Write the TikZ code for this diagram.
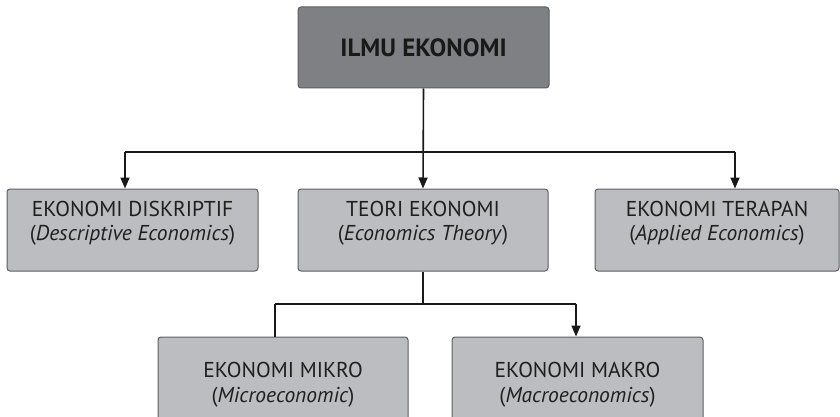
\documentclass[tikz,border=0pt]{standalone}
\usepackage{fontspec}
\setmainfont{PT Sans}
\usetikzlibrary{arrows.meta}
\definecolor{topfill}{HTML}{7F8084}
\definecolor{boxfill}{HTML}{BCBDC0}
\definecolor{boxline}{HTML}{5E5E60}
\tikzset{
  topbox/.style={draw=boxline, line width=1pt, fill=topfill, rounded corners=3pt, minimum width=251pt, minimum height=81pt, inner sep=0pt, font=\fontsize{25}{28}\selectfont\bfseries, text=black!90},
  subbox/.style={draw=boxline, line width=1pt, fill=boxfill, rounded corners=3pt, inner sep=0pt, align=center, font=\fontsize{21.5}{24.5}\selectfont, text=black!88},
  conn/.style={line width=1.6pt, black!90},
  arr/.style={conn, -{Triangle[length=11pt,width=9pt]}}
}
\begin{document}
\begin{tikzpicture}[x=1pt,y=-1pt]
\useasboundingbox (0,0) rectangle (840,417);
\clip (0,0) rectangle (840,417);
\fill[white] (0,0) rectangle (840,417);
\node[topbox] (ilmu) at (423.5,47.5) {ILMU EKONOMI};
\node[subbox, minimum width=251pt, minimum height=82pt] (diskriptif) at (132.5,230) {EKONOMI DISKRIPTIF\\(\textit{Descriptive Economics})\\[-14pt]\strut};
\node[subbox, minimum width=250pt, minimum height=82pt] (teori) at (423,230) {TEORI EKONOMI\\(\textit{Economics Theory})\\[-14pt]\strut};
\node[subbox, minimum width=244pt, minimum height=82pt] (terapan) at (717,230) {EKONOMI TERAPAN\\(\textit{Applied Economics})\\[-14pt]\strut};
\node[subbox, minimum width=250pt, minimum height=95pt] (mikro) at (283,384.5) {EKONOMI MIKRO\\(\textit{Microeconomic})};
\node[subbox, minimum width=251pt, minimum height=95pt] (makro) at (577.5,384.5) {EKONOMI MAKRO\\(\textit{Macroeconomics})};
% connectors level 1
\coordinate (hubL) at (125,152);
\coordinate (hubR) at (735,152);
\draw[arr] (ilmu.south) -- (teori.north);
\draw[conn] (hubL) -- (hubR);
\draw[arr] (hubL) -- (hubL |- diskriptif.north);
\draw[arr] (hubR) -- (hubR |- terapan.north);
% connectors level 2
\coordinate (subL) at (275,304);
\coordinate (subR) at (576,304);
\draw[conn] (teori.south) -- (teori.south |- subL);
\draw[conn] (subL) -- (subR);
\draw[conn] (subL) -- (subL |- mikro.north);
\draw[arr] (subR) -- (subR |- makro.north);
\end{tikzpicture}
\end{document}
